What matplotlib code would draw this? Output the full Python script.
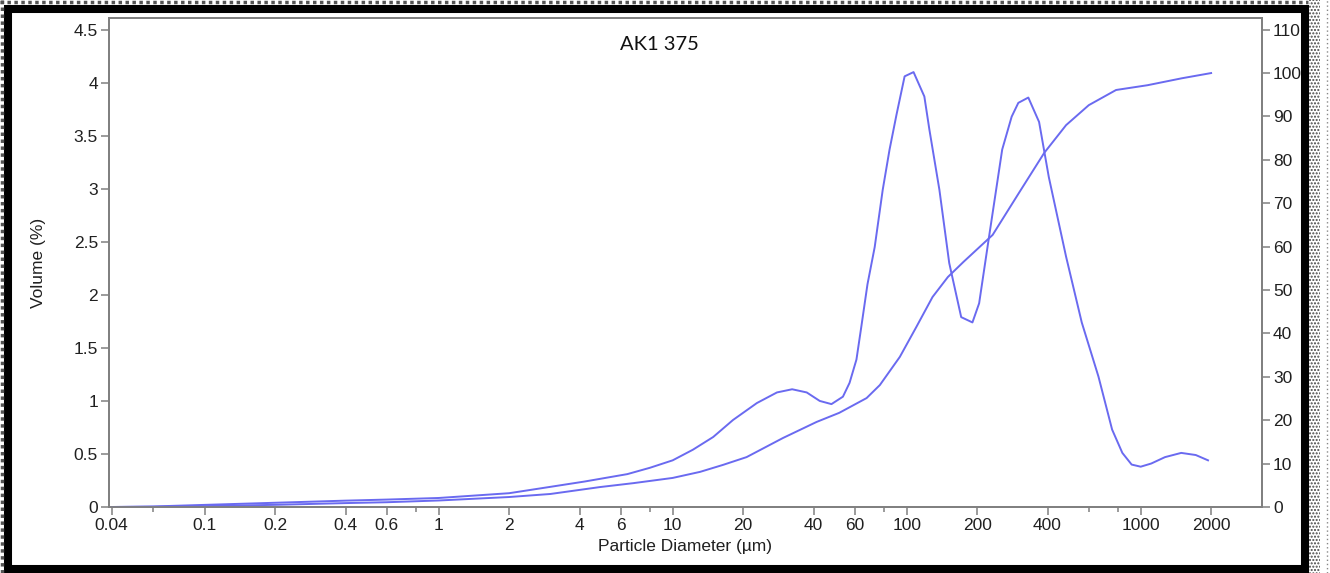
import numpy as np
import matplotlib
import matplotlib.pyplot as plt
from matplotlib.patches import Rectangle
from matplotlib.lines import Line2D

matplotlib.use('Agg')

## Data
# Frequency curve (left axis, Volume %)
freq_d = [0.04, 0.06, 0.1, 0.2, 0.4, 0.6, 1, 2, 3, 4.2, 6.4, 8, 10, 12.2, 14.9,
          18.1, 22.9, 27.9, 32.4, 37.4, 42.5, 47.7, 53.4, 57, 61, 64, 68, 73,
          79, 84.5, 90.5, 98, 107, 119, 125, 138, 152, 171, 191, 204, 225, 256,
          281, 300, 331, 368, 405, 480, 560, 660, 755, 835, 915, 1000, 1110,
          1270, 1490, 1720, 1940]
freq_v = [0.0, 0.005, 0.02, 0.04, 0.06, 0.07, 0.085, 0.13, 0.19, 0.24, 0.31, 0.37,
          0.44, 0.54, 0.66, 0.82, 0.98, 1.08, 1.11, 1.08, 1.0, 0.97, 1.04, 1.17,
          1.39, 1.7, 2.1, 2.45, 2.99, 3.37, 3.70, 4.06, 4.10, 3.87, 3.56, 2.99,
          2.30, 1.79, 1.74, 1.92, 2.55, 3.37, 3.68, 3.81, 3.86, 3.63, 3.11, 2.36,
          1.74, 1.23, 0.73, 0.51, 0.40, 0.38, 0.41, 0.47, 0.51, 0.49, 0.44]

# Cumulative curve (right axis, %)
cum_d = [0.04, 0.06, 0.1, 0.2, 0.4, 0.6, 1, 2, 3, 4.9, 6.8, 10, 13.1, 16.4, 20.7,
         29.6, 41.2, 51.5, 67.4, 76.8, 93.5, 110, 129, 150, 175, 233, 302, 387,
         480, 600, 785, 1070, 1500, 2000]
cum_v = [0, 0.05, 0.2, 0.5, 0.9, 1.1, 1.5, 2.3, 3.0, 4.6, 5.5, 6.7, 8.1, 9.7, 11.5,
         15.9, 19.6, 21.7, 25.1, 28.1, 34.6, 41.5, 48.4, 53.0, 56.5, 62.7, 72.4,
         81.6, 88.0, 92.6, 96.1, 97.2, 98.8, 100]

x_major = [0.04, 0.1, 0.2, 0.4, 0.6, 1, 2, 4, 6, 10, 20, 40, 60, 100, 200, 400, 1000, 2000]
x_labels = ['0.04', '0.1', '0.2', '0.4', '0.6', '1', '2', '4', '6', '10', '20',
            '40', '60', '100', '200', '400', '1000', '2000']
x_minor = [0.06, 0.8, 8, 80, 600, 800]
yl_ticks = [0, 0.5, 1, 1.5, 2, 2.5, 3, 3.5, 4, 4.5]
yl_labels = ['0', '0.5', '1', '1.5', '2', '2.5', '3', '3.5', '4', '4.5']
yr_ticks = list(range(0, 111, 10))

W, H = 1330, 573
line_col = '#6a6af0'
spine_col = '#808080'
txt_col = '#202020'

plt.rcParams['font.family'] = ['Liberation Sans', 'DejaVu Sans']

fig = plt.figure(figsize=(W / 100, H / 100), dpi=100)
fig.patch.set_facecolor('white')

# Plot area in pixels: left 109, right 1262, top 18, bottom 507
ax = fig.add_axes([109 / W, 1 - 507 / H, (1262 - 109) / W, (507 - 18) / H])
ax2 = ax.twinx()

ax.plot(freq_d, freq_v, color=line_col, lw=1.4)
ax2.plot(cum_d, cum_v, color=line_col, lw=1.4)

ax.set_xscale('log')
ax.set_xlim(0.039, 3300)
ax.set_ylim(0, 4.61)
ax2.set_ylim(0, 4.61 * 110 / 4.5)

ax.set_xticks(x_major)
ax.set_xticklabels(x_labels)
ax.set_xticks(x_minor, minor=True)
ax.xaxis.set_minor_formatter(matplotlib.ticker.NullFormatter())
ax.set_yticks(yl_ticks)
ax.set_yticklabels(yl_labels)
ax2.set_yticks(yr_ticks)

for a in (ax, ax2):
    for s in a.spines.values():
        s.set_color(spine_col)
        s.set_linewidth(1.3)
    a.tick_params(which='major', length=6, width=1.1, color=spine_col,
                  labelsize=12.5, labelcolor=txt_col, pad=2)
    a.tick_params(which='minor', length=3.5, width=1.1, color=spine_col)

ax.set_xlabel('Particle Diameter (µm)', fontsize=12.5, color=txt_col, labelpad=4)
ax.set_ylabel('Volume (%)', fontsize=12.5, color=txt_col, labelpad=20)

fig.text(659 / W, 1 - 45 / H, 'AK1 375', fontsize=14.5, family=['Lato', 'DejaVu Sans'],
         color='#111111', ha='center', va='center')

# Outer frame: dotted strips and thick black border
fig.add_artist(Line2D([2 / W, 2 / W], [0, 1], color='#555555', lw=2.5, ls=(0, (1, 1))))
fig.add_artist(Line2D([0, 1308 / W], [1 - 2 / H, 1 - 2 / H], color='#555555', lw=2.5,
                      ls=(0, (1, 1))))
fig.add_artist(Rectangle((1309 / W, 0), 11 / W, 1, transform=fig.transFigure,
                         facecolor='white', edgecolor='#444444', hatch='.....', lw=0))
fig.add_artist(Line2D([1327 / W, 1327 / W], [0, 1], color='#888888', lw=1,
                      ls=(0, (1, 2))))
fig.add_artist(Rectangle((8 / W, 1 - 569 / H), (1305 - 8) / W, (569 - 9) / H,
                         transform=fig.transFigure, fill=False, edgecolor='black',
                         lw=5.8))

fig.savefig('out.png', dpi=100)
plt.close()
